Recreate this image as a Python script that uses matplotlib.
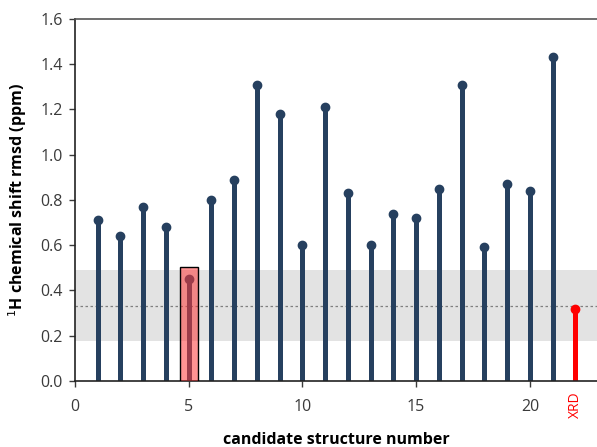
import matplotlib.pyplot as plt
from matplotlib.patches import Rectangle

# rmsd per candidate structure (ppm)
candidates = list(range(1, 22))
rmsd = [0.71, 0.64, 0.77, 0.68, 0.45, 0.80, 0.89, 1.31, 1.18, 0.60, 1.21,
        0.83, 0.60, 0.74, 0.72, 0.85, 1.31, 0.59, 0.87, 0.84, 1.43]
xrd_pos = 22
xrd_rmsd = 0.32
band_low, band_high = 0.175, 0.49
band_mid = 0.33
best = 5
best_box_top = 0.505

plt.rcParams['font.family'] = ['Open Sans', 'DejaVu Sans']

fig = plt.figure(figsize=(5.97, 4.47), dpi=100)
ax = fig.add_axes([0.1256, 0.1477, 0.8744, 0.8098])

navy = '#26405f'

# shaded range and its centre line
ax.axhspan(band_low, band_high, color='#e3e3e3', zorder=0, lw=0)
ax.axhline(band_mid, color='#808080', ls=(0, (2, 2)), lw=0.9, zorder=1)

# stems
ax.vlines(candidates, 0, rmsd, color=navy, lw=3.6, zorder=2)
ax.plot(candidates, rmsd, 'o', color=navy, ms=6, zorder=3)

# XRD reference
ax.vlines([xrd_pos], 0, [xrd_rmsd], color='#ff0000', lw=3.6, zorder=2)
ax.plot([xrd_pos], [xrd_rmsd], 'o', color='#ff0000', ms=6, zorder=3)

# highlight the best candidate
ax.add_patch(Rectangle((best - 0.37, 0), 0.76, best_box_top,
                       facecolor='#ff3a3a', alpha=0.55, edgecolor='none', zorder=4))
ax.add_patch(Rectangle((best - 0.37, 0), 0.76, best_box_top,
                       facecolor='none', edgecolor='black', lw=1.0, zorder=5))

ax.set_xlim(0, 22.95)
ax.set_ylim(0, 1.6)
ax.set_yticks([0.0, 0.2, 0.4, 0.6, 0.8, 1.0, 1.2, 1.4, 1.6])
ax.set_yticklabels(['0.0', '0.2', '0.4', '0.6', '0.8', '1.0', '1.2', '1.4', '1.6'])
ax.set_xticks([0, 5, 10, 15, 20])
ax.tick_params(axis='both', labelsize=11.5, colors='#3a3a3a', length=4, width=1)
ax.tick_params(axis='x', pad=9)
ax.tick_params(axis='y', pad=5)

ax.text(xrd_pos, -0.045, 'XRD', color='#ff0000', rotation=90, ha='center', va='top',
        fontsize=10, transform=ax.transData)

for s in ['left', 'bottom']:
    ax.spines[s].set_color('#222222')
    ax.spines[s].set_linewidth(1.2)
ax.spines['top'].set_color('#555555')
ax.spines['top'].set_linewidth(1.2)
ax.spines['right'].set_visible(False)

ax.set_xlabel('candidate structure number', fontsize=11.5, fontweight='bold', labelpad=12)
ax.set_ylabel(r'$^{1}$H chemical shift rmsd (ppm)', fontsize=11.5, fontweight='bold', labelpad=8)

fig.savefig('out.png', dpi=100)
